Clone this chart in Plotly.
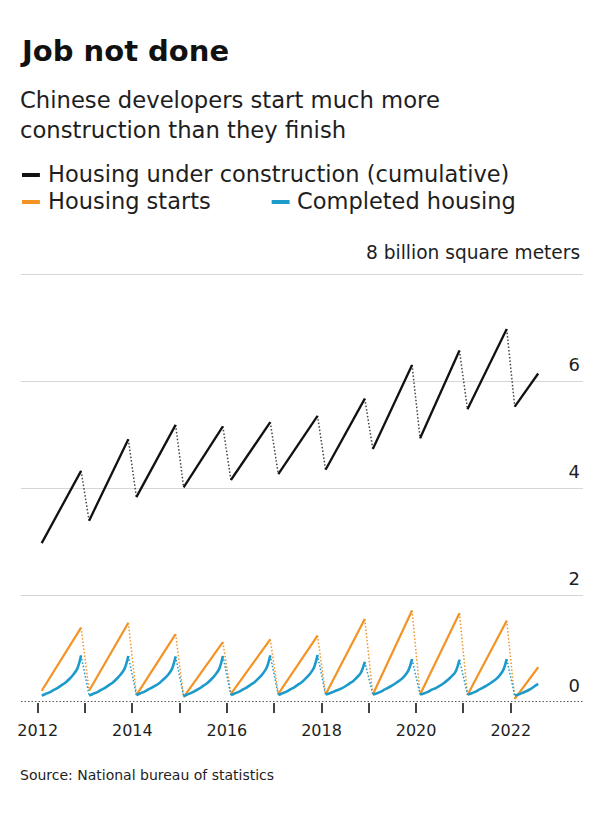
import plotly.graph_objects as go

# ---------------- data (billion square meters, year-to-date) ----------------
years = [2012, 2013, 2014, 2015, 2016, 2017, 2018, 2019, 2020, 2021, 2022]
last_month_2022 = 8  # data end: August 2022

# Housing under construction (cumulative): Feb value and final value of each year
construction_first = [2.97, 3.39, 3.83, 4.01, 4.15, 4.26, 4.34, 4.73, 4.93, 5.47, 5.52]
construction_last = [4.32, 4.91, 5.18, 5.15, 5.23, 5.35, 5.67, 6.30, 6.57, 6.97, 6.14]

# Housing starts: Feb value and final value of each year
starts_first = [0.21, 0.21, 0.13, 0.09, 0.15, 0.15, 0.14, 0.14, 0.14, 0.13, 0.06]
starts_last = [1.39, 1.48, 1.27, 1.12, 1.17, 1.24, 1.55, 1.71, 1.66, 1.52, 0.65]

# Completed housing, monthly Feb..Dec (2022: Feb..Aug)
completed_2012 = [0.12, 0.15, 0.18, 0.22, 0.26, 0.31, 0.36, 0.43, 0.51, 0.62, 0.87]
completed_2013 = [0.12, 0.15, 0.18, 0.22, 0.26, 0.31, 0.36, 0.43, 0.51, 0.62, 0.86]
completed_2014 = [0.13, 0.16, 0.19, 0.23, 0.27, 0.31, 0.36, 0.43, 0.50, 0.61, 0.85]
completed_2015 = [0.11, 0.14, 0.17, 0.21, 0.25, 0.30, 0.35, 0.42, 0.50, 0.61, 0.86]
completed_2016 = [0.13, 0.16, 0.19, 0.23, 0.27, 0.32, 0.37, 0.44, 0.52, 0.63, 0.87]
completed_2017 = [0.13, 0.16, 0.19, 0.23, 0.27, 0.32, 0.37, 0.44, 0.52, 0.63, 0.88]
completed_2018 = [0.14, 0.16, 0.19, 0.22, 0.25, 0.29, 0.34, 0.39, 0.46, 0.55, 0.75]
completed_2019 = [0.14, 0.16, 0.19, 0.23, 0.27, 0.31, 0.36, 0.41, 0.48, 0.58, 0.80]
completed_2020 = [0.14, 0.16, 0.19, 0.23, 0.26, 0.30, 0.35, 0.41, 0.48, 0.57, 0.79]
completed_2021 = [0.14, 0.16, 0.19, 0.23, 0.27, 0.31, 0.36, 0.41, 0.48, 0.58, 0.80]
completed_2022 = [0.12, 0.14, 0.17, 0.20, 0.24, 0.29, 0.34]
completed = [completed_2012, completed_2013, completed_2014, completed_2015, completed_2016,
             completed_2017, completed_2018, completed_2019, completed_2020, completed_2021,
             completed_2022]

y_tick_vals = [0, 2, 4, 6, 8]
y_tick_text = ["0", "2", "4", "6", ""]
y_unit_label = "8 billion square meters"
x_tick_years = years
x_tick_text = [str(y) if y % 2 == 0 else "" for y in years]

BLACK = "#111111"
ORANGE = "#F39325"
BLUE = "#1C9BCB"
FONT = "DejaVu Sans"
TXT = "#1e1e1e"


def d(year, month):
    return f"{year}-{month:02d}-01"


def end_month(year):
    return last_month_2022 if year == 2022 else 12


def solid_and_dotted(first, last):
    sx, sy, dx, dy = [], [], [], []
    for i, yr in enumerate(years):
        sx += [d(yr, 2), d(yr, end_month(yr)), None]
        sy += [first[i], last[i], None]
        if i + 1 < len(years):
            dx += [d(yr, 12), d(years[i + 1], 2), None]
            dy += [last[i], first[i + 1], None]
    return sx, sy, dx, dy


fig = go.Figure()

# orange: housing starts
sx, sy, dx, dy = solid_and_dotted(starts_first, starts_last)
fig.add_trace(go.Scatter(x=dx, y=dy, mode="lines", line=dict(color=ORANGE, width=1.5, dash="1.5px,2px"),
                         hoverinfo="skip", showlegend=False))
fig.add_trace(go.Scatter(x=sx, y=sy, mode="lines", line=dict(color=ORANGE, width=2.2),
                         name="Housing starts", showlegend=False))

# blue: completed housing
bx, by, bdx, bdy = [], [], [], []
for i, yr in enumerate(years):
    vals = completed[i]
    bx += [d(yr, 2 + k) for k in range(len(vals))] + [None]
    by += vals + [None]
    if i + 1 < len(years):
        bdx += [d(yr, 12), d(years[i + 1], 2), None]
        bdy += [vals[-1], completed[i + 1][0], None]
fig.add_trace(go.Scatter(x=bdx, y=bdy, mode="lines", line=dict(color=BLUE, width=1.5, dash="1.5px,2px"),
                         hoverinfo="skip", showlegend=False))
fig.add_trace(go.Scatter(x=bx, y=by, mode="lines",
                         line=dict(color=BLUE, width=2.6, shape="spline", smoothing=1.0),
                         name="Completed housing", showlegend=False))

# black: under construction
sx, sy, dx, dy = solid_and_dotted(construction_first, construction_last)
fig.add_trace(go.Scatter(x=dx, y=dy, mode="lines", line=dict(color="#444444", width=1.5, dash="1.5px,2px"),
                         hoverinfo="skip", showlegend=False))
fig.add_trace(go.Scatter(x=sx, y=sy, mode="lines", line=dict(color=BLACK, width=2.3),
                         name="Housing under construction (cumulative)", showlegend=False))

# ---------------- layout geometry ----------------
# positions below are in target-image pixels; the page adds an 8px body margin,
# so the figure is 584x797 and sits at (8, 8) on the page.
OFF = 8
W, H = 600 - 2 * OFF, 813 - 2 * OFF
L, R = 18 - OFF, 583 - OFF
T, B = 236 - OFF, 702 - OFF
pw, ph = R - L, B - T
UNIT = 53.5  # pixels per billion square meters


def px(x):
    return (x - OFF - L) / pw


def py(y):
    return (B - (y - OFF)) / ph


shapes = [
    # cover the grey gridline at zero, then draw the dotted baseline
    dict(type="line", xref="paper", yref="y", x0=0, x1=1, y0=0, y1=0,
         line=dict(color="white", width=2), layer="above"),
    dict(type="line", xref="paper", yref="y", x0=0, x1=1, y0=0, y1=0,
         line=dict(color="#222222", width=1.5, dash="1.5px,2px"), layer="above"),
    # legend swatches
    dict(type="line", xref="paper", yref="paper", x0=px(19), x1=px(37), y0=py(175), y1=py(175),
         line=dict(color=BLACK, width=4)),
    dict(type="line", xref="paper", yref="paper", x0=px(19), x1=px(37), y0=py(202), y1=py(202),
         line=dict(color=ORANGE, width=4)),
    dict(type="line", xref="paper", yref="paper", x0=px(270), x1=px(288), y0=py(202), y1=py(202),
         line=dict(color=BLUE, width=4)),
]

annotations = [
    dict(text="<b>Job not done</b>", x=px(15), y=py(51), xref="paper", yref="paper",
         xanchor="left", yanchor="middle", showarrow=False,
         font=dict(family=FONT, size=29, color="#111111")),
    dict(text="Chinese developers start much more<br>construction than they finish",
         x=px(15), y=py(115), xref="paper", yref="paper", xanchor="left", yanchor="middle",
         align="left", showarrow=False, font=dict(family=FONT, size=22.7, color=TXT)),
    dict(text="Housing under construction (cumulative)", x=px(43), y=py(174), xref="paper", yref="paper",
         xanchor="left", yanchor="middle", showarrow=False,
         font=dict(family=FONT, size=22.5, color=TXT)),
    dict(text="Housing starts", x=px(43), y=py(201), xref="paper", yref="paper",
         xanchor="left", yanchor="middle", showarrow=False,
         font=dict(family=FONT, size=22.5, color=TXT)),
    dict(text="Completed housing", x=px(293), y=py(201), xref="paper", yref="paper",
         xanchor="left", yanchor="middle", showarrow=False,
         font=dict(family=FONT, size=22.5, color=TXT)),
    dict(text=y_unit_label, x=px(582), y=8, xref="paper", yref="y",
         xanchor="right", yanchor="bottom", yshift=9, showarrow=False,
         font=dict(family=FONT, size=18.6, color=TXT)),
    dict(text="Source: National bureau of statistics", x=px(15), y=py(775), xref="paper", yref="paper",
         xanchor="left", yanchor="middle", showarrow=False,
         font=dict(family=FONT, size=14, color=TXT)),
]

fig.update_layout(
    width=W, height=H,
    margin=dict(l=L, r=W - R, t=T, b=H - B, pad=0),
    paper_bgcolor="white", plot_bgcolor="white",
    showlegend=False,
    shapes=shapes, annotations=annotations,
    xaxis=dict(
        type="date", range=["2011-08-25", "2023-07-13"],
        tickvals=[d(y, 1) for y in x_tick_years], ticktext=x_tick_text,
        ticks="outside", ticklen=10, tickwidth=1.5, tickcolor="#444444",
        ticklabelstandoff=4,
        showgrid=False, zeroline=False, showline=False,
        tickfont=dict(family=FONT, size=16, color=TXT),
    ),
    yaxis=dict(
        range=[0, ph / UNIT], side="right",
        tickvals=y_tick_vals, ticktext=y_tick_text,
        ticklabelposition="inside top", ticks="", ticklabelshift=-4,
        showgrid=True, gridcolor="#d6d6d6", gridwidth=1,
        zeroline=False, showline=False,
        tickfont=dict(family=FONT, size=18, color=TXT),
    ),
)

fig.write_html("out.html")
